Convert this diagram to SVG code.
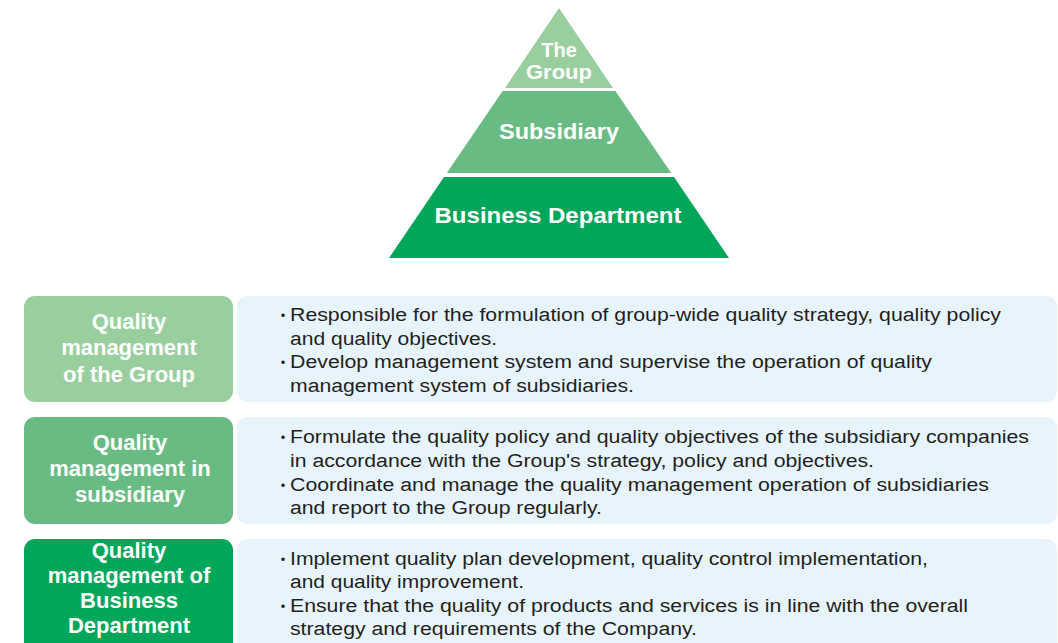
<svg xmlns="http://www.w3.org/2000/svg" width="1058" height="643" viewBox="0 0 1058 643">
<style>
.t{font-family:"Liberation Sans",Arial,sans-serif;font-size:18px;fill:#231f20}
.b{font-family:"Noto Sans CJK JP","Liberation Sans",sans-serif;font-size:16px;fill:#231f20}
.w{font-family:"Liberation Sans",Arial,sans-serif;font-size:22px;font-weight:bold;fill:#fff;text-anchor:middle}
.s{font-size:20px}
.c1{fill:#99cf9f}.c2{fill:#68bc83}.c3{fill:#00a65a}.bl{fill:#e8f4fc}
</style>
<rect width="1058" height="643" fill="#fff"/>
<g id="pyramid-group">
<polygon class="c1" points="559,8 613,88 505,88"/>
<text class="w s" x="559" y="57">The</text>
<text class="w s" x="559" y="79" textLength="66" lengthAdjust="spacingAndGlyphs">Group</text>
</g>
<g id="pyramid-subsidiary">
<polygon class="c2" points="502.6,91 615.4,91 671.2,173 446.8,173"/>
<text class="w" x="559" y="139" textLength="120" lengthAdjust="spacingAndGlyphs">Subsidiary</text>
</g>
<g id="pyramid-business">
<polygon class="c3" points="444,177 674,177 729,258 389,258"/>
<text class="w" x="558" y="223" textLength="247" lengthAdjust="spacingAndGlyphs">Business Department</text>
</g>
<g id="label-group">
<rect class="c1" x="24" y="296" width="209" height="106" rx="11"/>
<text class="w" x="129" y="329">Quality</text>
<text class="w" x="129" y="355">management</text>
<text class="w" x="129" y="382">of the Group</text>
</g>
<g id="desc-group">
<rect class="bl" x="237" y="296" width="820" height="106" rx="11"/>
<text class="b" x="275" y="321">・</text>
<text class="t" x="290" y="321" textLength="711" lengthAdjust="spacingAndGlyphs">Responsible for the formulation of group-wide quality strategy, quality policy</text>
<text class="t" x="290" y="345" textLength="207" lengthAdjust="spacingAndGlyphs">and quality objectives.</text>
<text class="b" x="275" y="368">・</text>
<text class="t" x="290" y="368" textLength="642" lengthAdjust="spacingAndGlyphs">Develop management system and supervise the operation of quality</text>
<text class="t" x="290" y="392" textLength="344" lengthAdjust="spacingAndGlyphs">management system of subsidiaries.</text>
</g>
<g id="label-subsidiary">
<rect class="c2" x="24" y="417" width="209" height="107" rx="11"/>
<text class="w" x="130" y="450">Quality</text>
<text class="w" x="130" y="476">management in</text>
<text class="w" x="130" y="502">subsidiary</text>
</g>
<g id="desc-subsidiary">
<rect class="bl" x="237" y="417" width="820" height="107" rx="11"/>
<text class="b" x="275" y="443">・</text>
<text class="t" x="290" y="443" textLength="739" lengthAdjust="spacingAndGlyphs">Formulate the quality policy and quality objectives of the subsidiary companies</text>
<text class="t" x="290" y="467" textLength="584" lengthAdjust="spacingAndGlyphs">in accordance with the Group's strategy, policy and objectives.</text>
<text class="b" x="275" y="491">・</text>
<text class="t" x="290" y="491" textLength="699" lengthAdjust="spacingAndGlyphs">Coordinate and manage the quality management operation of subsidiaries</text>
<text class="t" x="290" y="514" textLength="312" lengthAdjust="spacingAndGlyphs">and report to the Group regularly.</text>
</g>
<g id="label-business">
<rect class="c3" x="24" y="539" width="209" height="115" rx="11"/>
<text class="w" x="129" y="558">Quality</text>
<text class="w" x="129" y="583">management of</text>
<text class="w" x="129" y="608">Business</text>
<text class="w" x="129" y="633">Department</text>
</g>
<g id="desc-business">
<rect class="bl" x="237" y="539" width="820" height="115" rx="11"/>
<text class="b" x="275" y="565">・</text>
<text class="t" x="290" y="565" textLength="638" lengthAdjust="spacingAndGlyphs">Implement quality plan development, quality control implementation,</text>
<text class="t" x="290" y="588" textLength="234" lengthAdjust="spacingAndGlyphs">and quality improvement.</text>
<text class="b" x="275" y="612">・</text>
<text class="t" x="290" y="612" textLength="678" lengthAdjust="spacingAndGlyphs">Ensure that the quality of products and services is in line with the overall</text>
<text class="t" x="290" y="635" textLength="407" lengthAdjust="spacingAndGlyphs">strategy and requirements of the Company.</text>
</g>
<g id="connectors"/>
</svg>
